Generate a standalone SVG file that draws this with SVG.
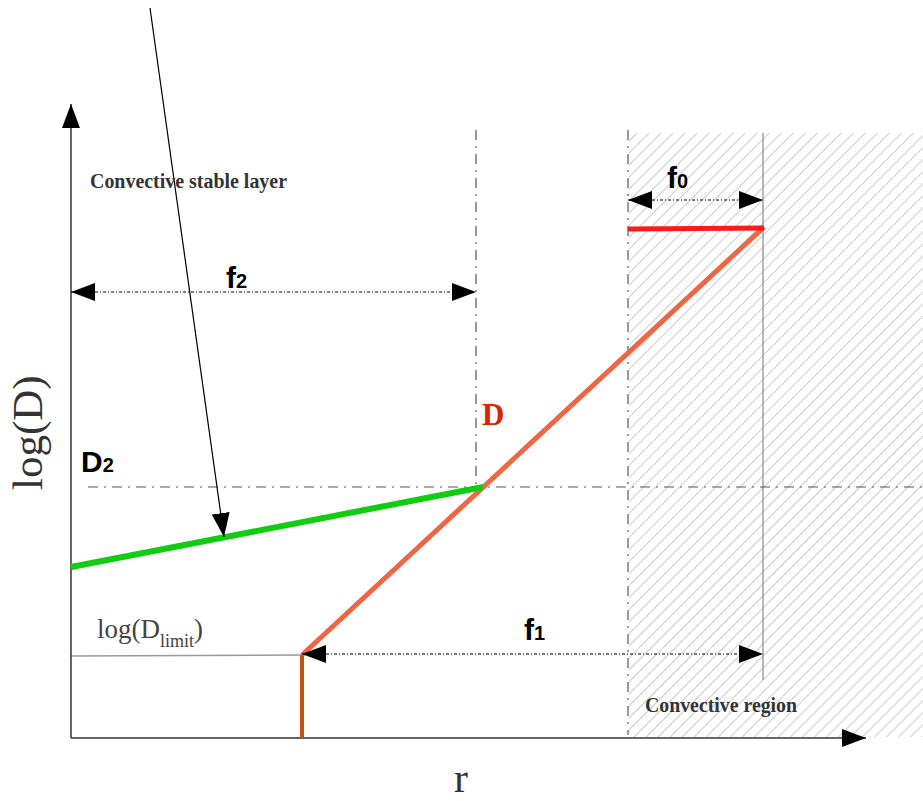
<svg xmlns="http://www.w3.org/2000/svg" width="923" height="801" viewBox="0 0 923 801">
<style>
.lbl{font-family:"Liberation Serif",serif;font-weight:bold;fill:#333;font-size:22px}
.f{font-family:"Liberation Sans",Arial,sans-serif;font-weight:bold;fill:#000}
.dd{stroke:#000;stroke-width:1.2;stroke-dasharray:3,2,1,2;fill:none}
.dashdot{stroke:#555;stroke-width:1.2;stroke-dasharray:10,6,2,6;fill:none}
</style>
<defs>
<pattern id="hatch" patternUnits="userSpaceOnUse" width="8.5" height="8.5" patternTransform="rotate(45)">
<line x1="0" y1="0" x2="0" y2="8.5" stroke="#b0b0b0" stroke-width="1.3"/>
</pattern>
<marker id="ah" markerUnits="userSpaceOnUse" markerWidth="26" markerHeight="20" refX="24" refY="9" orient="auto">
<path d="M0,0 L24,9 L0,18 Z" fill="#000"/>
</marker>
<marker id="ahs" markerUnits="userSpaceOnUse" markerWidth="26" markerHeight="20" refX="24" refY="9" orient="auto-start-reverse">
<path d="M0,0 L24,9 L0,18 Z" fill="#000"/>
</marker>
</defs>

<g id="convective-region">
<rect x="629" y="133" width="294" height="604" fill="url(#hatch)"/>
<line x1="763" y1="133" x2="763" y2="680" stroke="#888" stroke-width="1.2"/>
<line x1="628" y1="130" x2="628" y2="735" class="dashdot"/>
<text x="645" y="712" class="lbl" textLength="152" lengthAdjust="spacingAndGlyphs">Convective region</text>
</g>

<g id="guides">
<line x1="476" y1="130" x2="476" y2="487" class="dashdot"/>
<line x1="88" y1="487" x2="923" y2="487" class="dashdot"/>
<line x1="71" y1="656" x2="302" y2="655" stroke="#999" stroke-width="1.5"/>
</g>

<g id="axes">
<line x1="71" y1="738" x2="71" y2="104" stroke="#333" stroke-width="1.5" marker-end="url(#ah)"/>
<line x1="71" y1="738" x2="866" y2="738" stroke="#333" stroke-width="1.5" marker-end="url(#ah)"/>
<text transform="translate(42,490) rotate(-90)" font-family="Liberation Serif,serif" font-size="43" fill="#333">log(D)</text>
<text x="454" y="792" font-family="Liberation Serif,serif" font-size="42" fill="#333">r</text>
</g>

<g id="curves">
<line x1="302" y1="738" x2="302" y2="655" stroke="#c0550f" stroke-width="4"/>
<line x1="302" y1="655" x2="764" y2="227" stroke="#ee6644" stroke-width="5"/>
<line x1="628" y1="229" x2="764" y2="228" stroke="#ff1a1a" stroke-width="5"/>
<line x1="71" y1="567" x2="483" y2="487" stroke="#11cc11" stroke-width="6"/>
</g>

<g id="connectors">
<line x1="71" y1="292" x2="476" y2="292" class="dd" marker-start="url(#ahs)" marker-end="url(#ah)"/>
<line x1="628" y1="200" x2="763" y2="200" class="dd" marker-start="url(#ahs)" marker-end="url(#ah)"/>
<line x1="302" y1="654" x2="763" y2="654" class="dd" marker-start="url(#ahs)" marker-end="url(#ah)"/>
<line x1="150" y1="8" x2="224" y2="537" stroke="#000" stroke-width="1.2" marker-end="url(#ah)"/>
</g>

<g id="labels">
<text x="90" y="188" class="lbl" textLength="197" lengthAdjust="spacingAndGlyphs">Convective stable layer</text>
<text x="226" y="288" class="f" font-size="30">f<tspan font-size="20">2</tspan></text>
<text x="667" y="188" class="f" font-size="30">f<tspan font-size="20">0</tspan></text>
<text x="524" y="640" class="f" font-size="30">f<tspan font-size="20">1</tspan></text>
<text x="81" y="472" class="f" font-size="30">D<tspan font-size="20">2</tspan></text>
<text x="482" y="425" font-family="Liberation Serif,serif" font-weight="bold" font-size="31" fill="#dd2200">D</text>
<text x="97" y="638" font-family="Liberation Serif,serif" font-size="27" fill="#444">log(D<tspan font-size="18" dy="9">limit</tspan><tspan dy="-9">)</tspan></text>
</g>
</svg>
